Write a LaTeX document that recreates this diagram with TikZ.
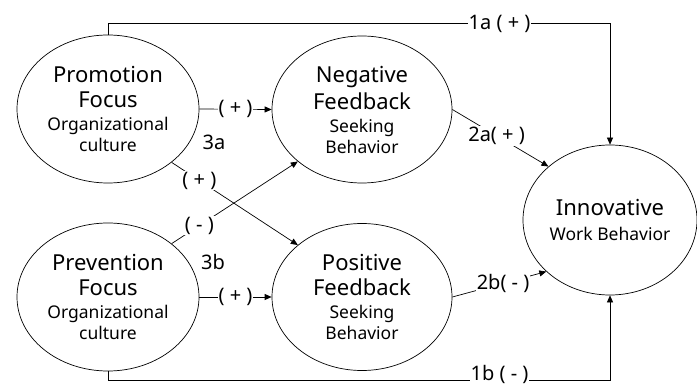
\documentclass[tikz,border=0pt]{standalone}
\usepackage{fontspec}
\setmainfont{Noto Sans}
\usepackage{tikz}
\usetikzlibrary{arrows.meta,positioning,shapes.geometric,calc}

\newcommand{\ttl}[1]{{\fontsize{22}{26}\selectfont #1}}
\newcommand{\sbt}[1]{{\fontsize{17.5}{21}\selectfont #1}}

\begin{document}
\begin{tikzpicture}[x=1pt, y=-1pt,
  var/.style={draw, ellipse, line width=0.7pt, inner sep=0pt, align=center,
              font=\fontsize{17.5}{21}\selectfont},
  arr/.style={-{Triangle[length=7pt,width=6pt]}, line width=0.7pt},
  lbl/.style={fill=white, inner sep=1pt, font=\fontsize{20}{22}\selectfont}
]
  \useasboundingbox (0,0) rectangle (697,385);

  \node[var, minimum width=182pt, minimum height=148pt] (prom) at (108,109)
    {\ttl{Promotion}\\[4pt]\ttl{Focus}\\[2pt]\sbt{Organizational}\\\sbt{culture}};
  \node[var, minimum width=182pt, minimum height=148pt] (prev) at (108,297)
    {\ttl{Prevention}\\[4pt]\ttl{Focus}\\[2pt]\sbt{Organizational}\\\sbt{culture}};
  \node[var, minimum width=180pt, minimum height=147pt] (neg) at (362,109.5)
    {\ttl{Negative}\\[4pt]\ttl{Feedback}\\[2pt]\sbt{Seeking}\\\sbt{Behavior}};
  \node[var, minimum width=180pt, minimum height=147pt] (pos) at (362,297)
    {\ttl{Positive}\\[4pt]\ttl{Feedback}\\[2pt]\sbt{Seeking}\\\sbt{Behavior}};
  \node[var, minimum width=174pt, minimum height=150pt] (inn) at (610,220)
    {\ttl{Innovative}\\[4pt]\sbt{Work Behavior}};

  % direct paths
  \draw[arr] (prom.north) -- ++(0,-11) coordinate (ta)
    -- (ta -| inn.north) node[lbl, pos=0.78] {1a ( + )} -- (inn.north);
  \draw[arr] (prev.south) -- ++(0,9) coordinate (tb)
    -- (tb -| inn.south) node[lbl, pos=0.78, yshift=6pt] {1b ( - )} -- (inn.south);

  % mediation paths
  \draw[arr] (prom.east) -- node[lbl] {( + )} (neg.west);
  \draw[arr] (prev.east) -- node[lbl] {( + )} (pos.west);
  \draw[arr] (prom.-40) -- node[lbl, pos=0.22] {( + )} (pos.141);
  \draw[arr] (prev.40) -- node[lbl, pos=0.22] {( - )} (neg.219);
  \draw[arr] (neg.east) -- node[lbl, pos=0.46] {2a( + )} (inn.139);
  \draw[arr] (pos.east) -- node[lbl, pos=0.54] {2b( - )} (inn.219);

  \node[lbl, fill=none] (h3a) at (214,142) {3a};
  \node[lbl, fill=none] (h3b) at (213,262) {3b};
\end{tikzpicture}
\end{document}
